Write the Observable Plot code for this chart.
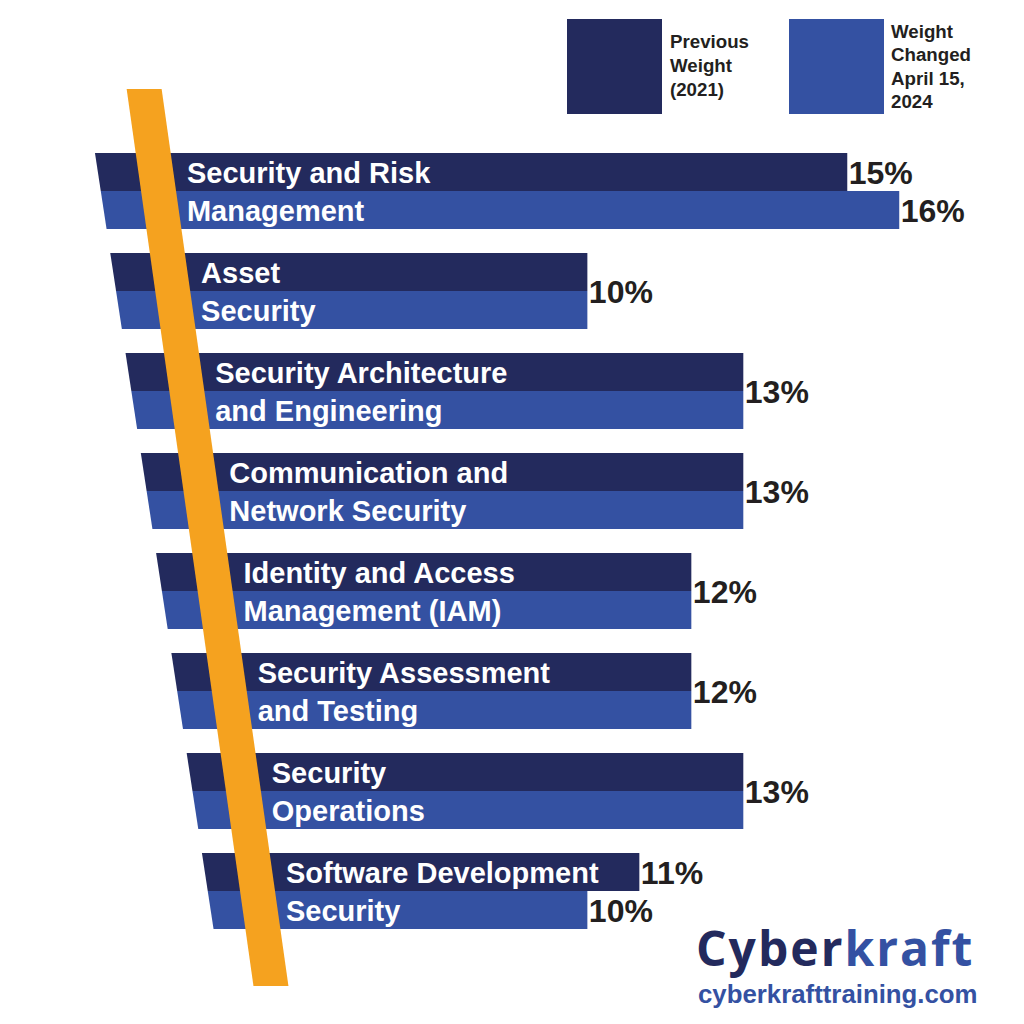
<!DOCTYPE html>
<html>
<head>
<meta charset="utf-8">
<script src="https://cdn.jsdelivr.net/npm/d3@7"></script>
<script src="https://cdn.jsdelivr.net/npm/@observablehq/plot@0.6"></script>
<style>
  html, body { margin: 0; padding: 0; background: #ffffff; }
  #page { position: relative; width: 1024px; height: 1024px; overflow: hidden; font-family: "Liberation Sans", Arial, sans-serif; }
  #chart { position: absolute; left: 0; top: 0; }
  .sw { position: absolute; width: 95px; height: 95px; top: 19px; }
  .lt { position: absolute; font-size: 18.7px; font-weight: bold; color: #231f20; white-space: pre; }
  #logo { position: absolute; left: 696px; top: 924px; font-family: "Open Sans", "Noto Sans", sans-serif; font-weight: 700; font-size: 48px; line-height: 48px; letter-spacing: 2px; white-space: nowrap; }
  #url { position: absolute; left: 698px; top: 982px; font-size: 25.8px; line-height: 25px; font-weight: bold; color: #3451a2; white-space: nowrap; }
</style>
</head>
<body>
<div id="page">
  <div id="chart"></div>
</div>
<script>
// ---- data ----
const domains = [
  "Security and Risk Management",
  "Asset Security",
  "Security Architecture and Engineering",
  "Communication and Network Security",
  "Identity and Access Management (IAM)",
  "Security Assessment and Testing",
  "Security Operations",
  "Software Development Security"
];
const labelLine1 = ["Security and Risk", "Asset", "Security Architecture", "Communication and", "Identity and Access", "Security Assessment", "Security", "Software Development"];
const labelLine2 = ["Management", "Security", "and Engineering", "Network Security", "Management (IAM)", "and Testing", "Operations", "Security"];
const weight2021 = [15, 10, 13, 13, 12, 12, 13, 11];
const weight2024 = [16, 10, 13, 13, 12, 12, 13, 10];
const seriesNames = ["Previous Weight (2021)", "Weight Changed April 15, 2024"];
const legendLines = [["Previous", "Weight", "(2021)"], ["Weight", "Changed", "April 15,", "2024"]];
const seriesColors = ["#232a5d", "#3451a2"];
const brandWords = ["Cyber", "kraft"];
const brandColors = ["#232a5d", "#3451a2"];
const brandUrl = "cyberkrafttraining.com";

// ---- layout helpers (style, not data) ----
const barH = 0.38;                       // each bar's thickness in band units
const base = y => 0.527 + 0.294 * y;     // slanted baseline of the bars
const stripeC = y => 1.647 + 0.272 * y;  // centre of the orange stripe
const stripeHalf = 0.3365;
const textX = i => 2.287 + 0.272 * i;

const series = [weight2021, weight2024];
const barRows = [];
domains.forEach((d, i) => {
  series.forEach((vals, s) => {
    const y0 = i + s * barH, y1 = y0 + barH;
    const id = d + "|" + s;
    barRows.push({id, series: seriesNames[s], y: y0, x1: base(y0), x2: vals[i]});
    barRows.push({id, series: seriesNames[s], y: y1, x1: base(y1), x2: vals[i]});
  });
});

const textRows = [];
domains.forEach((d, i) => {
  textRows.push({x: textX(i), y: i + barH / 2, t: labelLine1[i]});
  textRows.push({x: textX(i), y: i + barH * 1.5, t: labelLine2[i]});
});

const pctRows = [];
domains.forEach((d, i) => {
  if (weight2021[i] === weight2024[i]) {
    pctRows.push({x: weight2021[i], y: i + barH, t: weight2021[i] + "%"});
  } else {
    pctRows.push({x: weight2021[i], y: i + barH / 2, t: weight2021[i] + "%"});
    pctRows.push({x: weight2024[i], y: i + barH * 1.5, t: weight2024[i] + "%"});
  }
});

const stripeRows = [{y: -0.64}, {y: 8.33}];

const chart = Plot.plot({
  width: 1024,
  height: 1024,
  margin: 0,
  style: {fontFamily: "'Liberation Sans', Arial, sans-serif", background: "transparent"},
  x: {domain: [-1.3, 18.4], axis: null},
  y: {domain: [-1.53, 8.71], reverse: true, axis: null},
  color: {domain: seriesNames, range: seriesColors},
  marks: [
    Plot.areaX(barRows, {y: "y", x1: "x1", x2: "x2", z: "id", fill: "series", curve: "linear"}),
    Plot.areaX(stripeRows, {y: "y", x1: d => stripeC(d.y) - stripeHalf, x2: d => stripeC(d.y) + stripeHalf, fill: "#f5a21f", curve: "linear"}),
    Plot.text(textRows, {x: "x", y: "y", text: "t", fill: "#ffffff", fontSize: 29, fontWeight: "bold", textAnchor: "start", dy: 1}),
    Plot.text(pctRows, {x: "x", y: "y", text: "t", fill: "#231f20", fontSize: 32, fontWeight: "bold", textAnchor: "start", dx: 1, dy: 1})
  ]
});
document.getElementById("chart").appendChild(chart);

// ---- legend (HTML, over the svg) ----
const page = document.getElementById("page");
const swLeft = [567, 789];
const txLeft = [670, 891];
const txTop = [30, 20];
const txLH = [24, 23.3];
seriesNames.forEach((name, s) => {
  const sw = document.createElement("div");
  sw.className = "sw";
  sw.style.left = swLeft[s] + "px";
  sw.style.background = seriesColors[s];
  sw.title = name;
  page.appendChild(sw);
  const tx = document.createElement("div");
  tx.className = "lt";
  tx.style.left = txLeft[s] + "px";
  tx.style.top = txTop[s] + "px";
  tx.style.lineHeight = txLH[s] + "px";
  tx.textContent = legendLines[s].join("\n");
  page.appendChild(tx);
});

// ---- brand ----
const logo = document.createElement("div");
logo.id = "logo";
brandWords.forEach((w, k) => {
  const sp = document.createElement("span");
  sp.textContent = w;
  sp.style.color = brandColors[k];
  logo.appendChild(sp);
});
page.appendChild(logo);
const url = document.createElement("div");
url.id = "url";
url.textContent = brandUrl;
page.appendChild(url);
</script>
</body>
</html>
